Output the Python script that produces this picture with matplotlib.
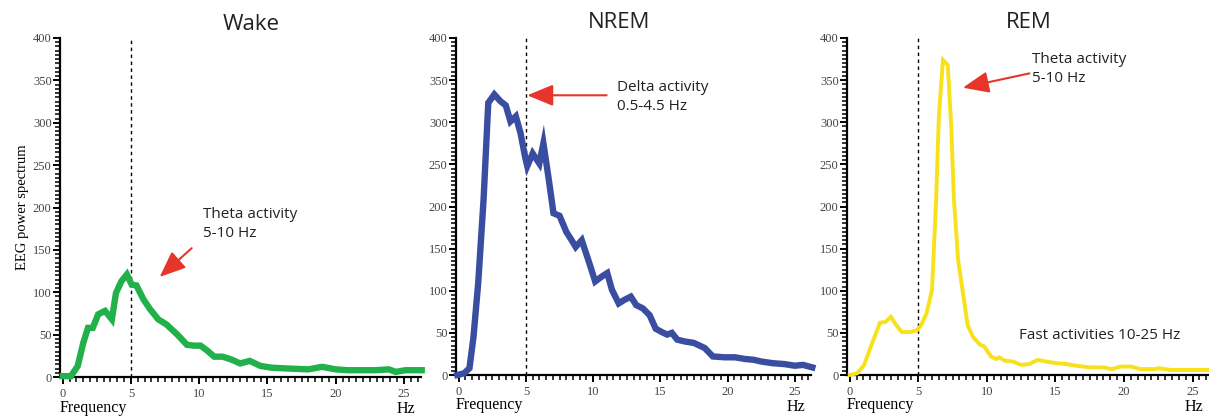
import matplotlib
matplotlib.use("Agg")
from matplotlib import pyplot as plt
from matplotlib.ticker import MultipleLocator

# power spectra (Hz, power)
wake_hz = [0.0, 0.6, 1.1, 1.5, 1.85, 2.2, 2.6, 3.1, 3.6, 3.9, 4.3, 4.7, 5.05, 5.4,
           5.9, 6.4, 7.0, 7.6, 8.4, 9.1, 9.6, 10.1, 10.6, 11.1, 11.7, 12.3, 13.0,
           13.7, 14.5, 15.3, 16.5, 18.0, 19.0, 20.0, 20.9, 21.9, 22.9, 23.9, 24.4,
           25.1, 26.3]
wake_pow = [1, 1, 13, 40, 58, 58, 74, 78, 68, 99, 113, 121, 109, 108,
            92, 80, 68, 62, 50, 38, 37, 37, 31, 24, 24, 21, 16,
            19, 13, 11, 10, 9, 12, 9, 8, 8, 8, 9, 6,
            8, 8]

nrem_hz = [-0.1, 0.4, 0.8, 1.1, 1.45, 1.85, 2.2, 2.65, 3.1, 3.5, 3.85, 4.25, 4.6,
           4.95, 5.1, 5.5, 6.0, 6.3, 6.7, 7.05, 7.5, 8.0, 8.4, 8.7, 9.15, 9.65,
           10.15, 10.65, 11.05, 11.4, 11.9, 12.3, 12.8, 13.2, 13.7, 14.2, 14.65,
           15.1, 15.5, 15.85, 16.25, 16.75, 17.5, 18.3, 18.9, 19.8, 20.55, 21.3,
           21.95, 22.5, 23.35, 24.2, 25.0, 25.6, 26.3]
nrem_pow = [0, 2, 8, 45, 109, 208, 323, 333, 325, 320, 301, 307, 287,
            258, 248, 263, 251, 275, 232, 192, 189, 170, 160, 152, 160, 136,
            111, 117, 121, 101, 85, 89, 93, 83, 79, 71, 55,
            51, 48, 50, 42, 40, 38, 32, 22, 21, 21, 19,
            18, 16, 14, 13, 11, 12, 9]

rem_hz = [0.0, 0.55, 1.05, 1.5, 2.2, 2.6, 3.0, 3.4, 3.8, 4.4, 4.9, 5.2, 5.6, 6.0,
          6.3, 6.5, 6.8, 7.15, 7.4, 7.6, 7.9, 8.25, 8.6, 9.0, 9.5, 9.8, 10.3,
          10.7, 10.9, 11.3, 11.9, 12.5, 13.1, 13.7, 14.3, 15.1, 15.8, 16.5, 17.6,
          18.5, 19.1, 19.75, 20.5, 21.2, 22.2, 22.6, 23.4, 24.3, 25.1, 26.1]
rem_pow = [0, 2, 12, 32, 62, 63, 69, 59, 51, 51, 53, 59, 73, 101,
           208, 307, 374, 368, 295, 208, 137, 98, 59, 45, 36, 34, 22,
           19, 21, 17, 16, 12, 13, 18, 16, 14, 13, 11, 9,
           9, 7, 10, 10, 7, 7, 8, 6, 6, 6, 6]

titles = ["Wake", "NREM", "REM"]
colors = ["#22b04b", "#3a4ea1", "#f7e11b"]
widths = [4.6, 4.6, 2.8]

W, H = 1209, 417
fig = plt.figure(figsize=(W / 100, H / 100), dpi=100)

# axes boxes in pixels: left, bottom, width, height
boxes = [(60, 40, 361, 339), (456, 42, 355, 337), (847, 42, 362, 337)]
xlims = [(-0.2, 26.25), (-0.2, 26.2), (-0.2, 26.2)]
# title centres in pixels (x, y from top)
title_pos = [(251, 24), (619, 23), (1029, 23)]

sans = "Open Sans"
serif = "Liberation Serif"
red = "#e8352b"

axes = []
series = [(wake_hz, wake_pow), (nrem_hz, nrem_pow), (rem_hz, rem_pow)]
for i, (hz, pw) in enumerate(series):
    l, b, w, h = boxes[i]
    ax = fig.add_axes([l / W, b / H, w / W, h / H])
    axes.append(ax)
    ax.plot(hz, pw, color=colors[i], lw=widths[i], solid_joinstyle="miter",
            clip_on=False, zorder=3)
    ax.axvline(5, color="black", lw=1.0, ls=(0, (2.5, 2.5)), zorder=2)
    ax.set_xlim(*xlims[i])
    ax.set_ylim(0, 400)
    for s in ["top", "right"]:
        ax.spines[s].set_visible(False)
    for s in ["left", "bottom"]:
        ax.spines[s].set_linewidth(1.6)
    ax.set_xticks([0, 5, 10, 15, 20, 25])
    ax.set_yticks(range(0, 401, 50))
    ax.xaxis.set_minor_locator(MultipleLocator(0.5))
    ax.yaxis.set_minor_locator(MultipleLocator(5))
    ax.tick_params(which="major", direction="out", length=5, width=1.4,
                   labelsize=9, labelcolor="#444444")
    ax.tick_params(axis="x", which="major", pad=3)
    ax.tick_params(axis="y", which="major", pad=1)
    ax.tick_params(which="minor", direction="out", length=3.5, width=1.1)
    for lab in ax.get_xticklabels() + ax.get_yticklabels():
        lab.set_family(serif)
    tx, ty = title_pos[i]
    fig.text(tx / W, 1 - ty / H, titles[i], fontsize=16, family=sans,
             color="#222222", ha="center", va="center")
    ax.text(0.0, -0.09, "Frequency", transform=ax.transAxes, family=serif,
            fontsize=11.5, ha="left", va="center")
    ax.text(0.985, -0.095, "Hz", transform=ax.transAxes, family=serif,
            fontsize=11.5, ha="right", va="center")

axes[0].set_ylabel("EEG power spectrum", family=serif, fontsize=10.5, labelpad=3)

arrow = dict(arrowstyle="-|>,head_length=0.8,head_width=0.33", color=red,
             lw=1.5, mutation_scale=20, shrinkA=0, shrinkB=0)

# Wake
axes[0].annotate("", xy=(7.1, 118), xytext=(9.45, 152), arrowprops=arrow)
axes[0].text(10.25, 200, "Theta activity\n5-10 Hz", family=sans, fontsize=11,
             va="top", ha="left", linespacing=1.35, color="#222222")

# NREM
axes[1].annotate("", xy=(5.1, 332), xytext=(11.0, 332), arrowprops=arrow)
axes[1].text(11.8, 350, "Delta activity\n0.5-4.5 Hz", family=sans, fontsize=11,
             va="top", ha="left", linespacing=1.35, color="#222222")

# REM
axes[2].annotate("", xy=(8.25, 341), xytext=(13.1, 358), arrowprops=arrow)
axes[2].text(13.3, 383, "Theta activity\n5-10 Hz", family=sans, fontsize=11,
             va="top", ha="left", linespacing=1.35, color="#222222")
axes[2].text(12.35, 47, "Fast activities 10-25 Hz", family=sans, fontsize=11,
             va="center", ha="left", color="#222222")

fig.savefig("out.png", dpi=100)
